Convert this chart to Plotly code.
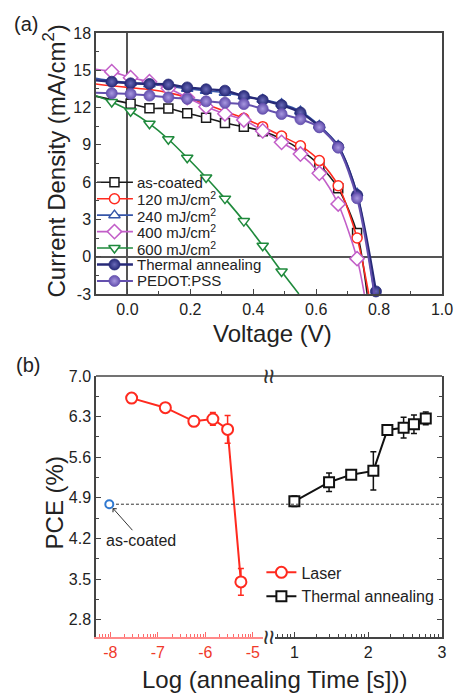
import math
import plotly.graph_objects as go

# ---------------- (a) J-V curves (V in volts, J in mA/cm2) ----------------
V_ascoated = [-0.10, 0.01, 0.07, 0.13, 0.19, 0.25, 0.31, 0.37, 0.43, 0.49, 0.55, 0.61, 0.67, 0.73, 0.762]
J_ascoated = [12.90, 12.30, 11.94, 11.92, 11.54, 11.18, 10.75, 10.46, 10.10, 9.48, 8.60, 7.38, 5.50, 1.90, -3.0]

V_120 = [-0.10, -0.05, 0.01, 0.07, 0.13, 0.19, 0.25, 0.31, 0.37, 0.43, 0.49, 0.55, 0.61, 0.67, 0.73, 0.767]
J_120 = [13.90, 13.75, 13.60, 13.45, 13.20, 12.80, 12.25, 11.70, 11.13, 10.46, 9.71, 8.93, 7.73, 5.71, 1.50, -3.0]

V_240 = [-0.10, -0.05, 0.01, 0.07, 0.13, 0.19, 0.25, 0.31, 0.37, 0.43, 0.49, 0.55, 0.61, 0.67, 0.73, 0.785]
J_240 = [14.35, 14.15, 14.00, 13.88, 13.72, 13.52, 13.36, 13.20, 12.90, 12.65, 12.30, 11.70, 10.55, 8.95, 5.10, -3.0]

V_400 = [-0.10, -0.05, 0.01, 0.07, 0.13, 0.19, 0.25, 0.31, 0.37, 0.43, 0.49, 0.55, 0.61, 0.67, 0.73, 0.753]
J_400 = [15.08, 14.89, 14.40, 14.08, 13.55, 12.80, 12.07, 11.50, 11.00, 10.12, 9.20, 8.26, 6.71, 4.24, -0.16, -3.0]

V_600 = [-0.10, -0.05, 0.01, 0.07, 0.13, 0.19, 0.25, 0.31, 0.37, 0.43, 0.49, 0.545]
J_600 = [12.95, 12.45, 11.70, 10.70, 9.45, 7.96, 6.37, 4.67, 2.86, 0.88, -1.20, -3.0]

V_thermal = [-0.10, -0.05, 0.01, 0.07, 0.13, 0.19, 0.25, 0.31, 0.37, 0.43, 0.49, 0.55, 0.61, 0.67, 0.73, 0.79]
J_thermal = [14.20, 14.08, 13.95, 13.90, 13.85, 13.62, 13.47, 13.36, 12.93, 12.60, 12.20, 11.60, 10.46, 8.85, 4.96, -2.80]

V_pedot = [-0.10, -0.05, 0.01, 0.07, 0.13, 0.19, 0.25, 0.31, 0.37, 0.43, 0.49, 0.55, 0.61, 0.67, 0.73, 0.785]
J_pedot = [13.20, 13.15, 13.10, 12.96, 12.82, 12.70, 12.50, 12.38, 12.28, 11.90, 11.48, 11.06, 10.41, 8.77, 4.70, -3.0]

# ---------------- (b) PCE vs log(annealing time) ----------------
logt_laser = [-7.55, -6.84, -6.24, -5.84, -5.53, -5.25]
pce_laser = [6.62, 6.455, 6.22, 6.26, 6.08, 3.45]
err_laser = [0.02, 0.02, 0.03, 0.11, 0.24, 0.23]

logt_thermal = [1.00, 1.47, 1.77, 2.07, 2.26, 2.48, 2.62, 2.78]
pce_thermal = [4.84, 5.17, 5.30, 5.365, 6.07, 6.11, 6.17, 6.27]
err_thermal = [0.09, 0.16, 0.08, 0.33, 0.03, 0.18, 0.16, 0.11]

logt_ascoated = [-8.02]
pce_ascoated = [4.79]
err_ascoated = [0.04]

x_ticks_a = [0.0, 0.2, 0.4, 0.6, 0.8, 1.0]
y_ticks_a = [-3, 0, 3, 6, 9, 12, 15, 18]
y_ticks_b = [2.8, 3.5, 4.2, 4.9, 5.6, 6.3, 7.0]
x_ticks_laser = [-8, -7, -6, -5]
x_ticks_thermal = [1, 2, 3]

FONT = "Liberation Sans, Arial, Helvetica, sans-serif"
FRAME = "#444444"
TXT = "#222222"

fig = go.Figure()

series = [
    dict(name="as-coated", V=V_ascoated, J=J_ascoated, color="#1a1a1a", fill="white",
         symbol="square", size=9, win=(0.0, 0.74), lw=1.6),
    dict(name="120 mJ/cm<sup>2</sup>", V=V_120, J=J_120, color="#ff2a1f", fill="white",
         symbol="circle", size=10, win=(0.35, 0.74), lw=1.6),
    dict(name="240 mJ/cm<sup>2</sup>", V=V_240, J=J_240, color="#3656a8", fill="white",
         symbol="triangle-up", size=10, win=(-0.06, 0.74), lw=1.6),
    dict(name="400 mJ/cm<sup>2</sup>", V=V_400, J=J_400, color="#c25ec8", fill="white",
         symbol="diamond", size=11, win=(-0.06, 0.74), lw=1.6),
    dict(name="600 mJ/cm<sup>2</sup>", V=V_600, J=J_600, color="#1f8a3c", fill="white",
         symbol="triangle-down", size=10, win=(-0.06, 0.50), lw=1.6),
    dict(name="Thermal annealing", V=V_thermal, J=J_thermal, color="#272a78", fill="#272a78",
         symbol="circle", size=11, win=(-0.06, 0.80), lw=2.4, grad="#6a6ab8"),
    dict(name="PEDOT:PSS", V=V_pedot, J=J_pedot, color="#6450ae", fill="#6450ae",
         symbol="circle", size=11, win=(-0.06, 0.74), lw=2.0, grad="#a898e0"),
]

def marker_style(s):
    m = dict(symbol=s["symbol"], size=s["size"], color=s["fill"],
             line=dict(color=s["color"], width=1.5))
    if "grad" in s:
        m["gradient"] = dict(type="radial", color=s["grad"])
        m["line"] = dict(color=s["color"], width=0.8)
    return m

for s in series:
    fig.add_trace(go.Scatter(x=s["V"], y=s["J"], mode="lines", showlegend=False,
                             line=dict(color=s["color"], width=s["lw"], shape="spline", smoothing=0.8),
                             hoverinfo="skip", xaxis="x", yaxis="y"))
    lo, hi = s["win"]
    mv = [v for v in s["V"] if lo <= v <= hi]
    mj = [j for v, j in zip(s["V"], s["J"]) if lo <= v <= hi]
    fig.add_trace(go.Scatter(x=mv, y=mj, mode="markers", showlegend=False, cliponaxis=False,
                             marker=marker_style(s), xaxis="x", yaxis="y"))

# compact key for panel (a), drawn on a hidden pixel-scaled overlay axis
KEY_X0, KEY_XM, KEY_X1, KEY_TX = 1.0, 19.0, 38.0, 40.0   # px from the left frame
KEY_Y0, KEY_DY = 149.3, 16.45                             # px from the top frame
PLOT_W, PLOT_H = 356.0, 261.0
key_ann = []
for i, s in enumerate(series):
    yk = KEY_Y0 + i * KEY_DY
    fig.add_trace(go.Scatter(x=[KEY_X0, KEY_X1], y=[yk, yk], mode="lines", showlegend=False,
                             line=dict(color=s["color"], width=s["lw"]), hoverinfo="skip",
                             xaxis="x4", yaxis="y4"))
    fig.add_trace(go.Scatter(x=[KEY_XM], y=[yk], mode="markers", showlegend=False,
                             marker=marker_style(s), hoverinfo="skip", cliponaxis=False,
                             xaxis="x4", yaxis="y4"))
    key_ann.append(dict(text=s["name"], x=KEY_TX, y=yk, xref="x4", yref="y4", showarrow=False,
                        xanchor="left", yanchor="middle", font=dict(size=15, color=TXT)))

# panel (b)
fig.add_trace(go.Scatter(x=logt_laser, y=pce_laser, mode="lines+markers", name="Laser",
                         line=dict(color="#ff2a1f", width=2),
                         marker=dict(symbol="circle", size=11, color="white",
                                     line=dict(color="#ff2a1f", width=2)),
                         error_y=dict(type="data", array=err_laser, color="#ff2a1f",
                                      thickness=1.5, width=3),
                         xaxis="x2", yaxis="y2", legend="legend2", cliponaxis=False))
fig.add_trace(go.Scatter(x=logt_ascoated, y=pce_ascoated, mode="markers", showlegend=False,
                         marker=dict(symbol="circle", size=8, color="white",
                                     line=dict(color="#2f78d0", width=2)),
                         error_y=dict(type="data", array=err_ascoated, color="#2f78d0",
                                      thickness=1.5, width=2),
                         xaxis="x2", yaxis="y2", cliponaxis=False))
fig.add_trace(go.Scatter(x=logt_thermal, y=pce_thermal, mode="lines+markers", name="Thermal annealing",
                         line=dict(color="#111111", width=2),
                         marker=dict(symbol="square", size=10, color="white",
                                     line=dict(color="#111111", width=2)),
                         error_y=dict(type="data", array=err_thermal, color="#111111",
                                      thickness=1.5, width=3),
                         xaxis="x3", yaxis="y3", legend="legend2", cliponaxis=False))

# layout geometry
rng_laser = [-8.30, -4.775]
rng_thermal = [0.736, 3.0]
dom_laser = [0.0, 0.484]
dom_thermal = [0.517, 1.0]
dom_top = [0.568, 1.0]
dom_bot = [0.0, 0.432]

def minor_log(rng):
    vals = []
    for n in range(math.floor(rng[0]) - 1, math.ceil(rng[1]) + 1):
        for k in range(2, 10):
            v = n + math.log10(k)
            if rng[0] < v < rng[1]:
                vals.append(v)
    return vals

common_tick = dict(showgrid=False, ticks="inside", ticklen=5, tickwidth=1.2)

fig.update_layout(
    width=465, height=696,
    margin=dict(l=96, r=13, t=33, b=59),
    paper_bgcolor="white", plot_bgcolor="white",
    font=dict(family=FONT, size=16, color=TXT),
    showlegend=True,
    xaxis=dict(domain=[0, 1], anchor="y", range=[-0.1, 1.0],
               tickmode="array", tickvals=x_ticks_a, ticktext=[f"{v:.1f}" for v in x_ticks_a],
               showline=True, linecolor=FRAME, linewidth=1.5, mirror=True, tickcolor=FRAME,
               zeroline=True, zerolinecolor="#555555", zerolinewidth=1.5,
               minor=dict(tickmode="array", tickvals=[-0.1, 0.1, 0.3, 0.5, 0.7, 0.9],
                          ticks="inside", ticklen=3, tickcolor=FRAME, showgrid=False),
               tickfont=dict(size=16), **common_tick),
    yaxis=dict(domain=dom_top, anchor="x", range=[-3, 18],
               tickmode="array", tickvals=y_ticks_a, ticktext=[str(v) for v in y_ticks_a],
               showline=True, linecolor=FRAME, linewidth=1.5, mirror=True, tickcolor=FRAME,
               zeroline=True, zerolinecolor="#555555", zerolinewidth=1.5,
               minor=dict(tickmode="array", tickvals=[-1.5, 1.5, 4.5, 7.5, 10.5, 13.5, 16.5],
                          ticks="inside", ticklen=3, tickcolor=FRAME, showgrid=False),
               tickfont=dict(size=16), **common_tick),
    xaxis4=dict(domain=[0, 1], anchor="y4", overlaying="x", range=[0, PLOT_W], visible=False,
                fixedrange=True),
    yaxis4=dict(domain=dom_top, anchor="x4", overlaying="y", range=[PLOT_H, 0], visible=False,
                fixedrange=True),
    xaxis2=dict(domain=dom_laser, anchor="y2", range=rng_laser,
                tickmode="array", tickvals=x_ticks_laser, ticktext=[str(v) for v in x_ticks_laser],
                showline=True, linecolor="#ff8a8a", linewidth=1.5, tickcolor="#ff6a6a",
                zeroline=False, tickfont=dict(size=16, color="#f03a2a"),
                minor=dict(tickmode="array", tickvals=minor_log(rng_laser), ticks="inside",
                           ticklen=3, tickcolor="#ff6a6a", showgrid=False),
                **common_tick),
    xaxis3=dict(domain=dom_thermal, anchor="y3", range=rng_thermal,
                tickmode="array", tickvals=x_ticks_thermal, ticktext=[str(v) for v in x_ticks_thermal],
                showline=True, linecolor=FRAME, linewidth=1.5, tickcolor=FRAME,
                zeroline=False, tickfont=dict(size=16, color=TXT),
                minor=dict(tickmode="array", tickvals=minor_log(rng_thermal), ticks="inside",
                           ticklen=3, tickcolor=FRAME, showgrid=False),
                **common_tick),
    yaxis2=dict(domain=dom_bot, anchor="x2", range=[2.5, 7.0],
                tickmode="array", tickvals=y_ticks_b, ticktext=[f"{v:.1f}" for v in y_ticks_b],
                showline=True, linecolor=FRAME, linewidth=1.5, tickcolor=FRAME, zeroline=False,
                minor=dict(tickmode="array", tickvals=[v + 0.35 for v in y_ticks_b[:-1]],
                           ticks="inside", ticklen=3, tickcolor=FRAME, showgrid=False),
                tickfont=dict(size=16), **common_tick),
    yaxis3=dict(domain=dom_bot, anchor="x3", matches="y2", side="right", range=[2.5, 7.0],
                tickmode="array", tickvals=y_ticks_b, showticklabels=False,
                showline=True, linecolor=FRAME, linewidth=1.5, tickcolor=FRAME, zeroline=False,
                minor=dict(tickmode="array", tickvals=[v + 0.35 for v in y_ticks_b[:-1]],
                           ticks="inside", ticklen=3, tickcolor=FRAME, showgrid=False),
                **common_tick),
    legend2=dict(x=0.478, y=0.135, xanchor="left", yanchor="top", bgcolor="rgba(0,0,0,0)",
                 font=dict(size=16, color=TXT), tracegroupgap=0, itemwidth=30),
)

# dashed reference line at the as-coated PCE
x_dash_start = -7.88
x0_paper = dom_laser[0] + (x_dash_start - rng_laser[0]) / (rng_laser[1] - rng_laser[0]) * (dom_laser[1] - dom_laser[0])
fig.add_shape(type="line", xref="paper", yref="y2", x0=x0_paper, x1=1.0,
              y0=pce_ascoated[0], y1=pce_ascoated[0],
              line=dict(color="#333333", width=1, dash="3px,2px"))
# top frame of panel (b)
fig.add_shape(type="line", xref="paper", yref="paper", x0=0, x1=1, y0=dom_bot[1], y1=dom_bot[1],
              line=dict(color=FRAME, width=1.5))

def pann(text, x, y, size, angle=0):
    return dict(text=text, x=x, y=y, xref="paper", yref="paper", showarrow=False,
                xanchor="center", yanchor="middle", textangle=angle,
                font=dict(size=size, color=TXT))

ann = list(key_ann)
ann.append(pann("(a)", -0.202, 1.015, 20))
ann.append(pann("(b)", -0.197, 0.450, 20))
ann.append(pann("Current Density (mA/cm<sup>2</sup>)", -0.12, 0.788, 24, -90))
ann.append(pann("Voltage (V)", 0.511, 0.503, 24))
ann.append(pann("PCE (%)", -0.12, 0.222, 24, -90))
ann.append(pann("Log (annealing Time [s]))", 0.517, -0.071, 24))
ann.append(dict(text="as-coated", x=logt_ascoated[0], y=pce_ascoated[0], xref="x2", yref="y2",
                showarrow=True, ax=32, ay=36, arrowhead=4, arrowsize=1, arrowwidth=1,
                arrowcolor="#333333", standoff=5, font=dict(size=16, color=TXT)))
for yb in (0.0, dom_bot[1]):
    ann.append(dict(text="≈", x=0.5, y=yb, xref="paper", yref="paper", showarrow=False,
                    xanchor="center", yanchor="middle",
                    textangle=90, font=dict(size=27, color="#333333")))
fig.update_layout(annotations=ann)

fig.write_html("out.html", config={"displayModeBar": False},
               post_script="document.body.style.margin='0px';")
